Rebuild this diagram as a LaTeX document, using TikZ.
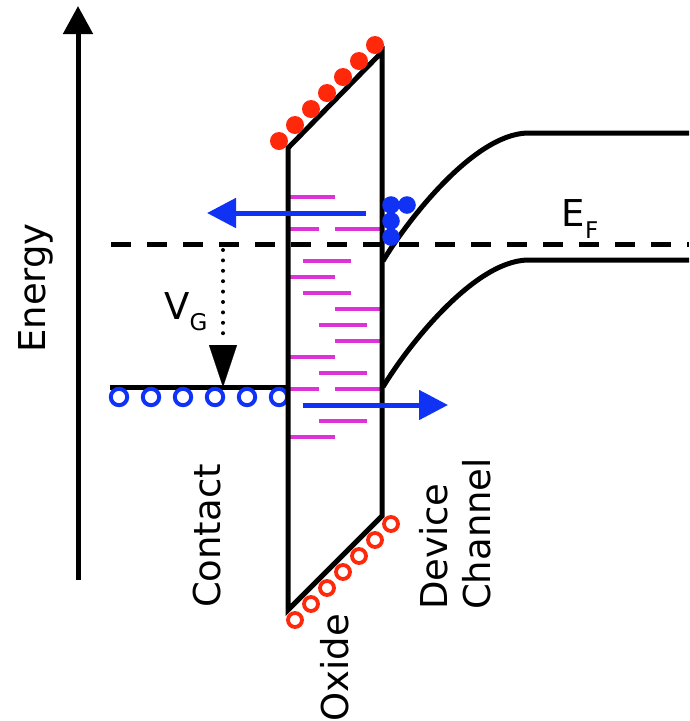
\documentclass[tikz,border=0pt]{standalone}
\usepackage{fontspec}
\setmainfont{DejaVu Sans}
\usetikzlibrary{arrows.meta}
\definecolor{cred}{RGB}{255,40,10}
\definecolor{cblue}{RGB}{15,50,245}
\definecolor{cmag}{RGB}{220,50,215}
\tikzset{
  lab/.style={font=\fontsize{37}{43}\selectfont, inner sep=0pt},
  thick line/.style={line width=5pt, black},
  trap/.style={line width=4pt, cmag},
  bluearrow/.style={line width=5pt, cblue, -{Triangle[width=29pt,length=29pt]}},
  reddot/.style={fill=cred, draw=none},
  redring/.style={draw=cred, line width=3.8pt},
  bluering/.style={draw=cblue, line width=4pt},
  bluedot/.style={fill=cblue, draw=none}
}
\begin{document}
\begin{tikzpicture}[x=1pt,y=-1pt]
\useasboundingbox (0,0) rectangle (689,721);
% energy axis
\coordinate (ea) at (78,580);
\coordinate (eb) at (78,6);
\draw[line width=5pt, -{Triangle[width=29pt,length=28pt]}] (ea) -- (eb);
\node[lab, rotate=90] (energy) at (36,288) {Energy};
% magenta traps
\foreach \y/\a/\b in {197/287/335, 229/287/319, 229/335/383, 261/303/351, 277/287/335,
  293/303/351, 309/335/383, 325/319/367, 341/335/383, 357/287/335, 373/319/367,
  389/287/319, 389/335/383, 421/319/367, 437/287/335}
  \draw[trap] (\a,\y) -- (\b,\y);
% Fermi level
\coordinate (ef1) at (111,244);
\coordinate (ef2) at (689,244);
\draw[line width=5pt, dash pattern=on 20pt off 16pt] (ef1) -- (ef2);
\node[lab] (EF) at (580,219) {E\raisebox{-0.3em}{\fontsize{23}{23}\selectfont F}};
% contact level
\coordinate (c1) at (110,387);
\coordinate (c2) at (288,387);
\draw[thick line] (c1) -- (c2);
\foreach \x in {119,151,183,215,247,279}
  \draw[bluering] (\x,397) circle (8.2);
% VG arrow
\coordinate (vg1) at (223,250);
\coordinate (vg2) at (223,340);
\coordinate (vg3) at (223,387);
\draw[line width=4pt, line cap=round, dash pattern=on 0pt off 10.4pt] (vg1) -- (vg2);
\draw[line width=0.1pt, -{Triangle[width=28pt,length=42pt]}] (223,345) -- (vg3);
\node[lab] (VG) at (186,312) {V\raisebox{-0.3em}{\fontsize{23}{23}\selectfont G}};
% oxide
\coordinate (o1) at (288,148);
\coordinate (o2) at (382,52);
\coordinate (o3) at (382,516);
\coordinate (o4) at (288,610);
\draw[thick line, line join=miter] (o1) -- (o2) -- (o3) -- (o4) -- cycle;
\foreach \i in {0,...,6}
  \fill[reddot] (279+16*\i,141-16*\i) circle (9);
\foreach \i in {0,...,6}
  \draw[redring] (295+16*\i,620-16*\i) circle (7);
% bands
\coordinate (cb0) at (383,261);
\coordinate (cb1) at (527,133);
\coordinate (cb2) at (689,133);
\draw[thick line] (cb0) .. controls (405,224) and (472,135) .. (cb1) -- (cb2);
\coordinate (vb0) at (383,387);
\coordinate (vb1) at (527,260);
\coordinate (vb2) at (689,260);
\draw[thick line] (vb0) .. controls (405,350) and (472,262) .. (vb1) -- (vb2);
% electrons
\fill[bluedot] (391,205) circle (8.8);
\fill[bluedot] (407,205) circle (8.8);
\fill[bluedot] (391,221) circle (8.8);
\fill[bluedot] (391,237) circle (8.8);
% tunnelling arrows
\coordinate (ta1) at (366,213);
\coordinate (ta2) at (207,213);
\draw[bluearrow] (ta1) -- (ta2);
\coordinate (tb1) at (303,405);
\coordinate (tb2) at (448,405);
\draw[bluearrow] (tb1) -- (tb2);
% labels
\node[lab, rotate=90] (contact) at (207,536) {Contact};
\node[lab, rotate=90] (oxide) at (335,668) {Oxide};
\node[lab, rotate=90, align=left] (channel) at (455,534) {Device\\Channel};
\end{tikzpicture}
\end{document}
